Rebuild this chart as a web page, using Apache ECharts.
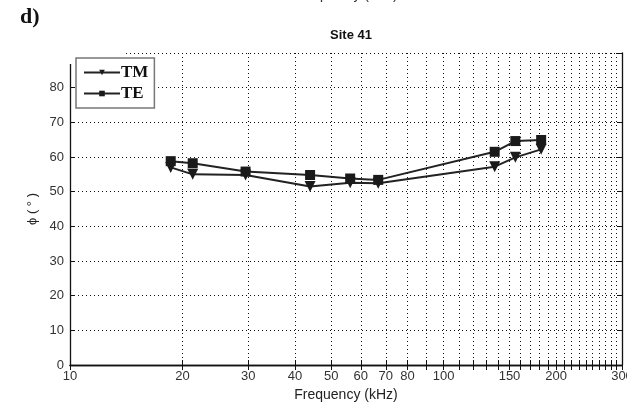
<!DOCTYPE html>
<html>
<head>
<meta charset="utf-8">
<script src="https://cdn.jsdelivr.net/npm/echarts@6/dist/echarts.min.js"></script>
<style>html,body{margin:0;padding:0;background:#fff}#c{width:627px;height:404px}</style>
</head>
<body>
<div id="c"></div>
<script>
const freq = [18.6, 21.3, 29.5, 43.9, 56.2, 66.8, 136.9, 155.5, 182.3];
const tmPhase = [57.0, 55.0, 54.8, 51.5, 52.6, 52.4, 57.2, 59.9, 62.2];
const tePhase = [58.8, 58.2, 55.8, 54.8, 53.8, 53.4, 61.5, 64.6, 64.9];
const xLabelValues = [10, 20, 30, 40, 50, 60, 70, 80, 100, 150, 200, 300];
const xTickValues = [10, 20, 30, 40, 50, 60, 70, 80, 90, 100, 110, 120, 130, 140, 150, 160, 170, 180, 190, 200, 210, 220, 230, 240, 250, 260, 270, 280, 290, 300];
const yTicks = [0, 10, 20, 30, 40, 50, 60, 70, 80];

const chart = echarts.init(document.getElementById('c'), null, {renderer: 'canvas'});
const sans = 'Liberation Sans, Arial, sans-serif';
const gridStyle = {show: true, lineStyle: {color: '#111', type: [1, 3], width: 1}};
const pair = a => freq.map((f, i) => [f, a[i]]);

chart.setOption({
  animation: false,
  backgroundColor: '#fff',
  title: {
    text: 'Site 41', left: 346, top: 24, textAlign: 'center',
    textStyle: {fontFamily: sans, fontSize: 13, fontWeight: 'bold', color: '#111'}
  },
  graphic: [
    {type: 'text', left: 20, top: 6, style: {text: 'd)', font: 'bold 22px "Liberation Serif", serif', fill: '#111'}},
    {type: 'text', x: 346, y: -12, style: {text: 'Frequency (kHz)', font: '14px ' + sans, fill: '#333', align: 'center'}},
    {type: 'rect', shape: {x: 64, y: 46, width: 61, height: 18}, style: {fill: '#fff'}, z: 3}
  ],
  legend: {
    left: 76, top: 58, orient: 'vertical',
    backgroundColor: '#fff', borderColor: '#777', borderWidth: 1.5,
    padding: [6, 6, 6, 7], itemGap: 4, itemWidth: 36, itemHeight: 7,
    textStyle: {fontFamily: 'Liberation Serif, serif', fontWeight: 'bold', fontSize: 17, color: '#111', padding: [0, 0, 0, -4]},
    data: ['TM', 'TE'], z: 10
  },
  grid: {left: 70, right: 5, top: 53, bottom: 39, outerBoundsMode: 'none', containLabel: false},
  xAxis: [{
    type: 'log', logBase: 10, min: 10, max: 300,
    axisLine: {show: true, lineStyle: {color: '#111', width: 1.3}},
    axisTick: {show: true, inside: true, length: 5, customValues: xTickValues, lineStyle: {color: '#111'}},
    axisLabel: {customValues: xLabelValues, fontFamily: sans, fontSize: 13, color: '#333', margin: 5, hideOverlap: false},
    splitLine: gridStyle,
    minorTick: {show: false}, minorSplitLine: {show: false},
    name: 'Frequency (kHz)', nameLocation: 'middle', nameGap: 21,
    nameTextStyle: {fontFamily: sans, fontSize: 14, color: '#222'}
  }, {
    type: 'log', logBase: 10, min: 10, max: 300, position: 'top',
    axisLine: {show: true, lineStyle: {color: '#111', width: 1.3}},
    axisTick: {show: true, inside: true, length: 5, customValues: xTickValues, lineStyle: {color: '#111'}},
    axisLabel: {show: false}, splitLine: {show: false}
  }],
  yAxis: [{
    type: 'value', min: 0, max: 90, interval: 10,
    axisLine: {show: true, lineStyle: {color: '#111', width: 1.3}},
    axisTick: {show: true, inside: true, length: 5, lineStyle: {color: '#111'}},
    axisLabel: {fontFamily: sans, fontSize: 13, color: '#333', margin: 6,
      formatter: v => (yTicks.indexOf(v) >= 0 ? String(v) : '')},
    splitLine: gridStyle,
    name: 'ϕ ( ° )', nameLocation: 'middle', nameGap: 29,
    nameTextStyle: {fontFamily: sans, fontSize: 13, color: '#222'}
  }, {
    type: 'value', min: 0, max: 90, interval: 10, position: 'right',
    axisLine: {show: true, lineStyle: {color: '#111', width: 1.3}},
    axisTick: {show: true, inside: true, length: 5, lineStyle: {color: '#111'}},
    axisLabel: {show: false}, splitLine: {show: false}
  }],
  series: [{
    name: 'TM', type: 'line', data: pair(tmPhase),
    symbol: 'triangle', symbolRotate: 180, symbolSize: 11,
    lineStyle: {color: '#222', width: 2}, itemStyle: {color: '#1a1a1a'}, z: 5
  }, {
    name: 'TE', type: 'line', data: pair(tePhase),
    symbol: 'rect', symbolSize: 10,
    lineStyle: {color: '#222', width: 2}, itemStyle: {color: '#1a1a1a'}, z: 5
  }]
});
</script>
</body>
</html>
